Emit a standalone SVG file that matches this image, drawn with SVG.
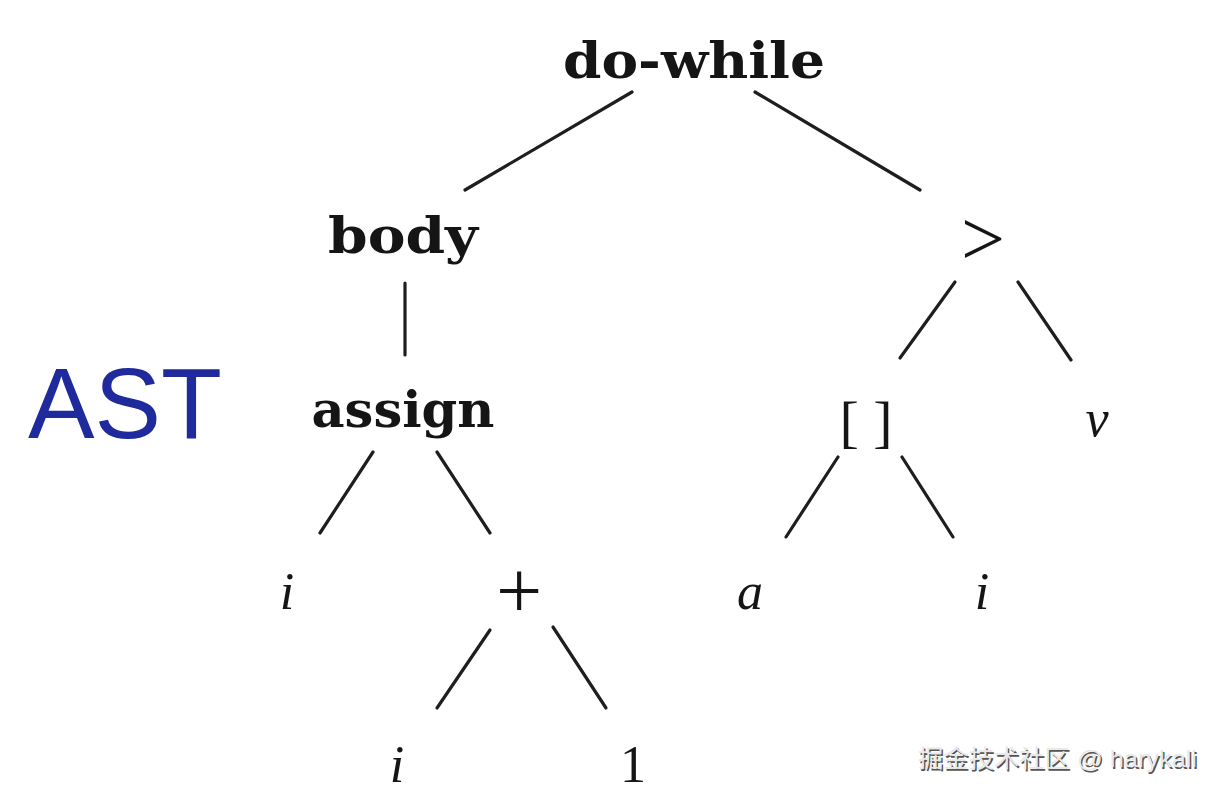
<svg xmlns="http://www.w3.org/2000/svg" width="1222" height="796" viewBox="0 0 1222 796">
<style>
.b{font-family:"DejaVu Serif","Liberation Serif",serif;font-weight:bold;fill:#151515;text-anchor:middle}
.it{font-family:"Liberation Serif","DejaVu Serif",serif;font-style:italic;fill:#151515;text-anchor:middle;font-size:52px}
.r{font-family:"Liberation Serif","DejaVu Serif",serif;fill:#151515;text-anchor:middle}
.e line{stroke:#1e1e1e;stroke-width:3.2;stroke-linecap:round}
.wm{font-family:"Liberation Sans","Noto Sans CJK SC",sans-serif;font-size:24px}
</style>
<rect width="1222" height="796" fill="#ffffff"/>
<g class="e" id="connectors">
<line x1="632" y1="92" x2="465" y2="190"/>
<line x1="755" y1="92" x2="920" y2="190"/>
<line x1="405" y1="283" x2="405" y2="355"/>
<line x1="955" y1="282" x2="900" y2="358"/>
<line x1="1018" y1="282" x2="1071" y2="360"/>
<line x1="373" y1="452" x2="320" y2="533"/>
<line x1="437" y1="452" x2="490" y2="533"/>
<line x1="838" y1="457" x2="786" y2="537"/>
<line x1="902" y1="457" x2="953" y2="537"/>
<line x1="490" y1="630" x2="437" y2="708"/>
<line x1="553" y1="627" x2="606" y2="708"/>
</g>
<g id="ast-label"><text x="28" y="438" font-family="Liberation Sans,Arial,sans-serif" font-size="101" fill="#1f2a9c" textLength="194" lengthAdjust="spacingAndGlyphs">AST</text></g>
<g id="n-dowhile"><text class="b" x="694" y="78" font-size="50" textLength="262" lengthAdjust="spacingAndGlyphs">do-while</text></g>
<g id="n-body"><text class="b" x="403" y="253" font-size="50" textLength="150" lengthAdjust="spacingAndGlyphs">body</text></g>
<g id="n-gt"><text class="r" x="983" y="265" font-size="78">&gt;</text></g>
<g id="n-assign"><text class="b" x="403" y="427" font-size="50" textLength="183" lengthAdjust="spacingAndGlyphs">assign</text></g>
<g id="n-index"><text class="r" x="866" y="441" font-size="58">[ ]</text></g>
<g id="n-v"><text class="it" x="1097" y="436">v</text></g>
<g id="n-i1"><text class="it" x="287" y="609">i</text></g>
<g id="n-plus"><text class="r" x="519" y="618" font-size="82">+</text></g>
<g id="n-a"><text class="it" x="750" y="609">a</text></g>
<g id="n-i2"><text class="it" x="982" y="609">i</text></g>
<g id="n-i3"><text class="it" x="397" y="782">i</text></g>
<g id="n-one"><text class="r" x="633" y="782" font-size="52">1</text></g>
<g id="watermark">
<text class="wm" x="919.5" y="768.5" fill="#555555" textLength="279" lengthAdjust="spacingAndGlyphs">掘金技术社区 @ harykali</text>
<text class="wm" x="918" y="767" fill="#e8e8e8" textLength="279" lengthAdjust="spacingAndGlyphs">掘金技术社区 @ harykali</text>
</g>
</svg>
